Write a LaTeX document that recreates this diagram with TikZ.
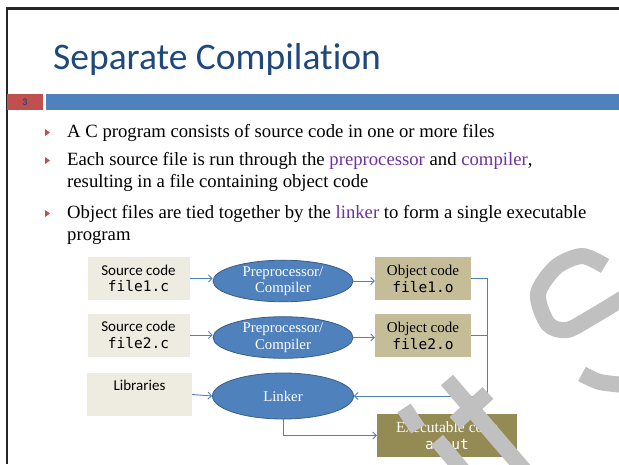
\documentclass[tikz,border=0pt]{standalone}
\usepackage{fontspec}
\setmainfont{Liberation Serif}
\setmonofont{DejaVu Sans Mono}
\newfontfamily\calibri[Ligatures=NoCommon]{Carlito}
\usetikzlibrary{arrows.meta,positioning,shapes.geometric}
\definecolor{scTitle}{HTML}{1F497D}
\definecolor{scRed}{HTML}{C0504D}
\definecolor{scBlue}{HTML}{4F81BD}
\definecolor{scBlueDark}{HTML}{385D8A}
\definecolor{scPurple}{HTML}{7030A0}
\definecolor{scSrc}{HTML}{EEECE1}
\definecolor{scObj}{HTML}{C4BD97}
\definecolor{scExe}{HTML}{948A54}
\definecolor{scMark}{HTML}{C0C0C0}
\newcommand\fname[1]{{\ttfamily\fontsize{14.5}{16.5}\selectfont #1}}
\tikzset{
  arr/.style={-{Straight Barb[length=3.5pt,width=7pt]}, line width=0.9pt, draw=scBlue},
  wire/.style={line width=0.9pt, draw=scBlue},
  frame/.style={line width=2.5pt, draw=black!85},
  numbox/.style={rectangle, fill=scRed, minimum width=36, minimum height=16, inner sep=0pt, text=scTitle, font=\calibri\bfseries\fontsize{10}{11}\selectfont},
  headbar/.style={rectangle, fill=scBlue, minimum width=573, minimum height=16, inner sep=0pt},
  title/.style={anchor=base west, inner sep=0pt, text=scTitle, font=\calibri\fontsize{37.5}{40}\selectfont},
  bullet/.style={anchor=base west, inner sep=0pt, align=left, font=\fontsize{18.7}{22}\selectfont},
  srcbox/.style={rectangle, fill=scSrc, minimum width=102, minimum height=43, inner sep=0pt, align=center, font=\calibri\fontsize{15}{16.5}\selectfont},
  procell/.style={ellipse, fill=scBlue, draw=scBlueDark, line width=0.8pt, minimum width=140, minimum height=38, inner sep=0pt, align=center, text=white, font=\fontsize{14.8}{16.5}\selectfont},
  objbox/.style={rectangle, fill=scObj, minimum width=96, minimum height=43, inner sep=0pt, align=center, font=\fontsize{15}{17}\selectfont},
  exebox/.style={rectangle, fill=scExe, minimum width=140, minimum height=43, inner sep=0pt, align=center, text=white, font=\fontsize{15.5}{17}\selectfont},
  scribble/.style={draw=scMark, line width=16pt}
}
\begin{document}
\begin{tikzpicture}[x=1pt,y=-1pt]
  \useasboundingbox (0,0) rectangle (619,464);
  \fill[white] (0,0) rectangle (619,464);
  % slide frame, header
  \draw[frame] (6.8,464) -- (6.8,8.6) -- (619,8.6);
  \node[numbox] (num) at (25,102) {3};
  \node[headbar] (bar) at (332.5,102) {};
  \node[title] (title) at (53,69) {Separate Compilation};
  % bullets (multi-line nodes sit on their last baseline)
  \foreach \y in {137,165,218}{\fill[scRed] (45,\y-8) -- (50,\y-4.5) -- (45,\y-1) -- cycle;}
  \node[bullet] (b1) at (67,137) {A C program consists of source code in one or more files};
  \node[bullet] (b2) at (67,187) {Each source file is run through the \textcolor{scPurple}{preprocessor} and \textcolor{scPurple}{compiler},\\resulting in a file containing object code};
  \node[bullet] (b3) at (67,240) {Object files are tied together by the \textcolor{scPurple}{linker} to form a single executable\\program};
  % diagram
  \node[srcbox] (src1) at (138.5,278.5) {Source code\\\fname{file1.c}};
  \node[srcbox] (src2) at (138.5,335) {Source code\\\fname{file2.c}};
  \node[srcbox, minimum width=105, text height=10.5pt, text depth=18pt] (libs) at (139.5,394.5) {Libraries};
  \node[procell] (pp1) at (283,281) {Preprocessor/\\Compiler};
  \node[procell, minimum height=39] (pp2) at (283,337.5) {Preprocessor/\\Compiler};
  \node[procell, minimum width=141, minimum height=46] (linker) at (283,396) {Linker};
  \node[objbox] (obj1) at (423,278.5) {Object code\\\fname{file1.o}};
  \node[objbox] (obj2) at (423,335.5) {Object code\\\fname{file2.o}};
  \node[exebox] (exe) at (447,435.5) {Executable code\\\fname{a.out}};
  \coordinate (bus) at (487,396);
  \foreach \i in {1,2}{
    \draw[arr] (src\i.east) -- (src\i.east -| pp\i.west);
    \draw[arr] (pp\i.east) -- (pp\i.east -| obj\i.west);
  }
  \draw[arr] (obj1.east) -| (bus) -- (linker.east);
  \draw[wire] (obj2.east) -- (obj2.east -| bus);
  \draw[arr] (libs.east) -- (linker.west);
  \draw[arr] (linker.south) |- (exe.west);
  % grey pen strokes on top
  \begin{scope}
    \clip (0,0) rectangle (619,464);
    \draw[scribble] plot[smooth] coordinates {(605,266) (582,256) (556,267) (538,294) (548,324) (567,330) (592,317) (625,297)};
    \draw[scribble] plot[smooth] coordinates {(582,374) (600,382) (625,385)};
    \draw[scribble] (447,380) -- (530,477);
    \draw[scribble] (488,393) -- (455,423);
    \draw[scribble] (404,408) -- (418,429);
    \draw[scribble] (437,440) -- (470,479);
  \end{scope}
\end{tikzpicture}
\end{document}
